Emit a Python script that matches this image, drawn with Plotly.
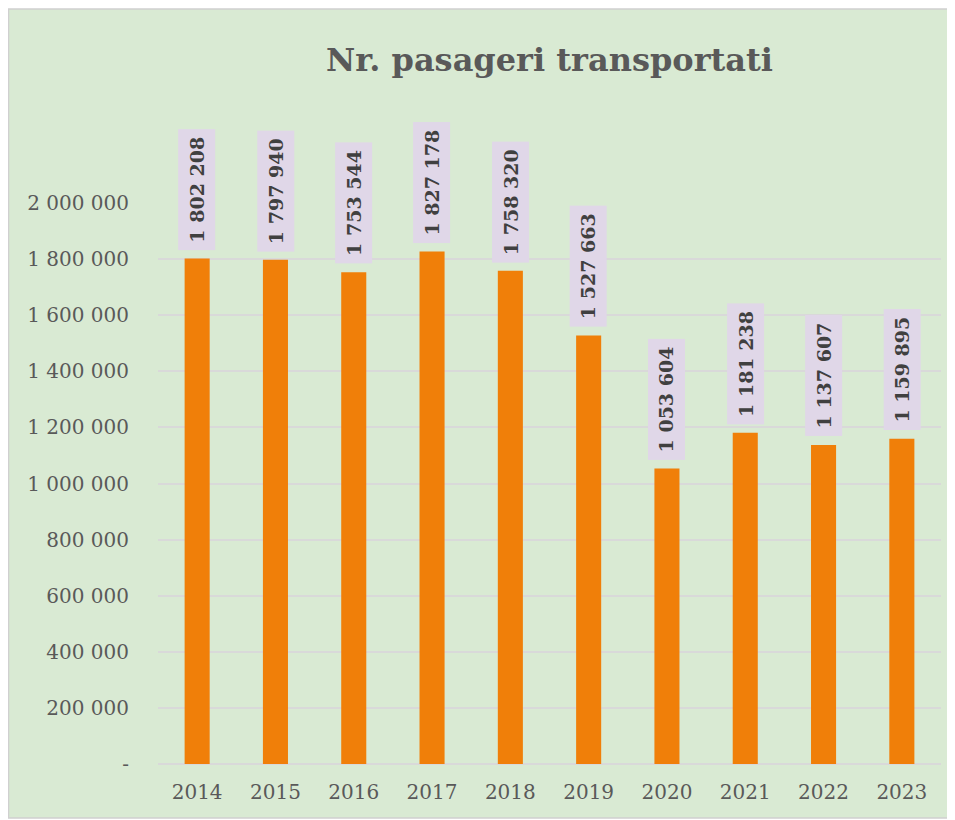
import plotly.graph_objects as go

years = ["2014", "2015", "2016", "2017", "2018", "2019", "2020", "2021", "2022", "2023"]
passengers = [1802208, 1797940, 1753544, 1827178, 1758320, 1527663, 1053604, 1181238, 1137607, 1159895]
tick_vals = [0, 200000, 400000, 600000, 800000, 1000000, 1200000, 1400000, 1600000, 1800000, 2000000]
tick_text = ["-"] + [f"{v:,}".replace(",", " ") for v in tick_vals[1:]]


def fmt(v):
    return f"{v:,}".replace(",", " ")


fig = go.Figure()
fig.add_trace(go.Bar(x=years, y=passengers, marker=dict(color="#f07f09", line=dict(width=0))))

# data labels: category index on x (numeric-looking strings would be read as indices)
for i, val in enumerate(passengers):
    fig.add_annotation(
        x=i, y=val, text=fmt(val), textangle=-90, showarrow=False,
        yanchor="bottom", yshift=8, bgcolor="#e0d7e8", borderpad=7,
        font=dict(family="DejaVu Serif", size=19, color="#404040", weight="bold"),
    )

# outer chart area with its light border
fig.add_shape(type="rect", xref="paper", yref="paper",
              x0=-0.1909, x1=1.0172, y0=-0.0963, y1=1.3458,
              line=dict(color="#d0d0d0", width=1.5), fillcolor="#d9ead3", layer="below")

fig.update_layout(
    width=947, height=812,
    margin=dict(l=150, r=14, t=195, b=56),
    paper_bgcolor="white", plot_bgcolor="rgba(0,0,0,0)",
    bargap=0.68, showlegend=False,
    title=dict(text="<b>Nr. pasageri transportati</b>", x=0.5, xref="paper", y=0.936, yanchor="middle",
               font=dict(family="DejaVu Serif", size=32, color="#595959")),
    xaxis=dict(type="category", showgrid=False, ticks="", showline=False, ticklabelstandoff=14,
               tickfont=dict(family="DejaVu Serif", size=20, color="#595959")),
    yaxis=dict(range=[0, 2000000], tickvals=tick_vals, ticktext=tick_text,
               gridcolor="#d9d9d9", gridwidth=1.5, zeroline=True, zerolinecolor="#d9d9d9",
               zerolinewidth=1.5, ticks="", ticklabelstandoff=28,
               tickfont=dict(family="DejaVu Serif", size=20, color="#595959")),
)
fig.update_traces(cliponaxis=False)

fig.write_html("out.html")
